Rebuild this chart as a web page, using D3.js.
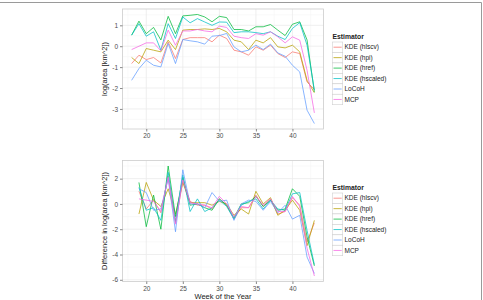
<!DOCTYPE html><head><meta charset = "utf-8">
<title>home range estimators</title>
<style type = "text/css">
body { margin: 0; background: white; }
svg { display: block; font-family: "Liberation Sans", Arial, sans-serif; }
</style>
<script type="text/javascript" src="https://cdn.jsdelivr.net/npm/d3@7"></script>
</head><body>
<svg id="chart" width="483" height="300"></svg>
<script type="text/javascript">

// estimator names and ggplot hue colours
var estimators = ["KDE (hlscv)", "KDE (hpi)", "KDE (href)", "KDE (hscaled)", "LoCoH", "MCP"];
var colors = ["#F8766D", "#B79F00", "#00BA38", "#00BFC4", "#619CFF", "#F564E3"];

// weeks
var weeksTop = [18,19,20,21,22,23,24,25,26,27,28,29,30,31,32,33,34,35,36,37,38,39,40,41,42,43];
var weeksDiff = [19,20,21,22,23,24,25,26,27,28,29,30,31,32,33,34,35,36,37,38,39,40,41,42,43];

// log(area) per estimator
var areaHlscv = [-0.83,-0.43,-0.64,-0.54,-0.80,0.21,-0.59,0.32,0.41,0.41,0.41,0.21,0.53,0.37,-0.19,-0.27,-0.43,-0.03,-0.19,0.05,-0.35,-0.54,-0.27,-0.35,-1.71,-2.07];
var areaHpi = [-0.54,-0.83,-0.11,-0.19,-0.27,0.29,-0.16,0.77,0.80,0.80,0.83,0.80,0.85,0.69,0.29,0.21,-0.16,0.29,0.16,0.41,-0.03,-0.08,0.05,-0.27,-1.63,-2.23];
var areaHref = [0.53,1.20,0.60,0.90,0.30,1.43,0.60,1.45,1.48,1.52,1.40,1.17,1.43,1.37,0.80,0.80,0.73,0.93,0.93,1.04,0.77,0.51,1.05,1.17,0.30,-2.19];
var areaHscaled = [0.53,1.08,0.48,0.69,-0.19,1.08,0.37,1.40,1.12,1.32,1.16,1.00,1.16,1.15,0.65,0.69,0.69,0.65,0.60,0.69,0.48,0.32,0.85,1.13,0.05,-2.10];
var areaLocoh = [-1.63,-1.07,-0.67,-0.91,-0.99,0.13,-0.83,0.32,0.26,0.21,0.10,0.48,0.51,0.61,-0.03,-0.27,-0.19,0.05,-0.16,0.10,-0.32,-0.48,-0.91,-1.23,-3.06,-3.70];
var areaMcp = [-0.16,0.00,0.16,0.16,-0.22,0.77,0.05,0.73,0.73,0.80,0.73,0.69,0.96,0.90,0.48,0.41,0.37,0.60,0.53,0.69,0.45,0.16,0.45,0.29,-1.15,-3.19];

// difference in log(area) per estimator
var diffHlscv = [1.0,-0.4,0.3,-0.7,2.2,-1.5,1.8,0.2,-0.1,-0.1,-0.4,0.4,-0.1,-1.2,-0.3,-0.3,0.7,-0.2,0.4,-0.8,-0.6,0.5,-0.1,-3.0,-1.5];
var diffHpi = [-0.8,1.7,0.3,-0.2,1.2,-0.8,1.7,0.1,0.1,0.1,-0.1,0.2,0.0,-0.9,-0.4,-0.8,1.0,0.0,0.5,-0.9,-0.5,0.3,-0.5,-3.3,-1.3];
var diffHref = [1.7,-1.8,0.7,-2.0,3.0,-1.0,2.1,-0.1,0.0,-0.3,-0.5,0.4,-0.1,-1.1,0.0,0.1,0.6,-0.2,0.3,-0.5,-0.4,1.2,0.6,-2.6,-4.9];
var diffHscaled = [1.3,-0.5,-0.3,-1.3,2.5,-1.4,2.3,-0.6,0.4,-0.6,-0.3,0.3,-0.2,-1.2,-0.1,0.2,0.4,-0.4,0.3,-0.4,-0.5,0.8,0.9,-2.1,-4.8];
var diffLocoh = [1.2,0.9,-0.5,-0.4,2.0,-2.2,2.7,0.0,0.0,-0.3,0.9,0.2,0.3,-1.3,0.0,0.3,0.2,-0.5,0.2,-0.7,-0.1,-1.2,-0.9,-4.2,-5.5];
var diffMcp = [0.4,0.3,0.2,-0.6,2.1,-1.6,1.9,0.1,0.0,-0.1,-0.3,0.6,0.0,-1.0,-0.2,-0.3,0.6,-0.1,0.4,-0.6,-0.6,0.6,-0.2,-3.5,-5.7];

var areaSeries = [areaHlscv, areaHpi, areaHref, areaHscaled, areaLocoh, areaMcp];
var diffSeries = [diffHlscv, diffHpi, diffHref, diffHscaled, diffLocoh, diffMcp];

var xTicks = [20, 25, 30, 35, 40];
var yTicksTop = [-3, -2, -1, 0, 1];
var yTicksDiff = [-6, -4, -2, 0, 2];

var svg = d3.select("#chart");

// frame around figure (top and right edges visible)
svg.append("line").attr("x1", 0).attr("x2", 481.5).attr("y1", 2.5).attr("y2", 2.5)
  .attr("stroke", "#9a9a9a").attr("stroke-width", 1);
svg.append("line").attr("x1", 481.5).attr("x2", 481.5).attr("y1", 2.5).attr("y2", 300)
  .attr("stroke", "#9a9a9a").attr("stroke-width", 1);

// ggplot style 5% expansion
function expand(ext) {
  var d = (ext[1] - ext[0]) * 0.05;
  return [ext[0] - d, ext[1] + d];
}

function drawPanel(opt) {
  var weeks = opt.weeks, series = opt.series;
  var left = 122.5, right = 323.5;
  var g = svg.append("g");

  var xscale = d3.scaleLinear().domain(expand([18, 43])).range([left, right]);
  var all = d3.merge(series);
  var yscale = d3.scaleLinear().domain(expand(d3.extent(all))).range([opt.bottom, opt.top]);

  // minor grid
  var xMinor = xTicks.map(function(t) { return t - 2.5; }).concat([42.5]);
  var yMinor = opt.yTicks.map(function(t) { return t - opt.yStep / 2; }).concat([opt.yTicks[opt.yTicks.length - 1] + opt.yStep / 2]);
  g.selectAll("line.xminor").data(xMinor.filter(function(v) { return xscale(v) > left && xscale(v) < right; }))
    .join("line").attr("class", "xminor")
    .attr("x1", function(d) { return xscale(d); }).attr("x2", function(d) { return xscale(d); })
    .attr("y1", opt.top).attr("y2", opt.bottom).attr("stroke", "#f5f5f5").attr("stroke-width", 0.6);
  g.selectAll("line.yminor").data(yMinor.filter(function(v) { return yscale(v) > opt.top && yscale(v) < opt.bottom; }))
    .join("line").attr("class", "yminor")
    .attr("x1", left).attr("x2", right)
    .attr("y1", function(d) { return yscale(d); }).attr("y2", function(d) { return yscale(d); })
    .attr("stroke", "#f5f5f5").attr("stroke-width", 0.6);

  // major grid
  g.selectAll("line.xmajor").data(xTicks).join("line").attr("class", "xmajor")
    .attr("x1", function(d) { return xscale(d); }).attr("x2", function(d) { return xscale(d); })
    .attr("y1", opt.top).attr("y2", opt.bottom).attr("stroke", "#ebebeb").attr("stroke-width", 0.8);
  g.selectAll("line.ymajor").data(opt.yTicks).join("line").attr("class", "ymajor")
    .attr("x1", left).attr("x2", right)
    .attr("y1", function(d) { return yscale(d); }).attr("y2", function(d) { return yscale(d); })
    .attr("stroke", "#ebebeb").attr("stroke-width", 0.8);

  // data lines
  var line = d3.line()
    .x(function(d, i) { return xscale(weeks[i]); })
    .y(function(d) { return yscale(d); });
  g.selectAll("path.data").data(series).join("path").attr("class", "data")
    .attr("d", line)
    .attr("fill", "none")
    .attr("stroke", function(d, i) { return colors[i]; })
    .attr("stroke-width", 0.75);

  // panel border
  g.append("rect").attr("x", left).attr("y", opt.top)
    .attr("width", right - left).attr("height", opt.bottom - opt.top)
    .attr("fill", "none").attr("stroke", "#cccccc").attr("stroke-width", 0.8);

  // axes
  var xaxis = g.append("g").attr("transform", "translate(0," + opt.bottom + ")")
    .call(d3.axisBottom(xscale).tickValues(xTicks).tickSize(2.5).tickPadding(2));
  var yaxis = g.append("g").attr("transform", "translate(" + left + ",0)")
    .call(d3.axisLeft(yscale).tickValues(opt.yTicks).tickSize(2.5).tickPadding(2)
      .tickFormat(function(d) { return String(d); }));
  [xaxis, yaxis].forEach(function(a) {
    a.select(".domain").remove();
    a.selectAll(".tick line").attr("stroke", "#555555").attr("stroke-width", 0.7);
    a.selectAll(".tick text").attr("fill", "#4d4d4d").style("font-size", "6.5px");
  });

  // y title
  g.append("text")
    .attr("transform", "translate(104," + ((opt.top + opt.bottom) / 2) + ") rotate(-90)")
    .attr("text-anchor", "middle")
    .attr("dy", "0.35em")
    .style("font-size", "7.5px")
    .attr("fill", "#222")
    .text(opt.ytitle);

  // legend
  var lg = svg.append("g").attr("transform", "translate(332.5," + opt.legendTop + ")");
  lg.append("text").attr("x", 0).attr("y", 0).attr("dy", "0.35em")
    .style("font-size", "6.8px").style("font-weight", "bold").attr("fill", "#222")
    .text("Estimator");
  var items = lg.selectAll("g.item").data(estimators).join("g").attr("class", "item")
    .attr("transform", function(d, i) { return "translate(0," + (5.5 + i * 10.45) + ")"; });
  items.append("rect").attr("width", 10.2).attr("height", 10.45)
    .attr("fill", "white").attr("stroke", "#d0d0d0").attr("stroke-width", 0.6);
  items.append("line").attr("x1", 1).attr("x2", 9.2).attr("y1", 5.2).attr("y2", 5.2)
    .attr("stroke", function(d, i) { return colors[i]; }).attr("stroke-width", 0.75);
  items.append("text").attr("x", 12).attr("y", 5.2).attr("dy", "0.35em")
    .style("font-size", "6.5px").attr("fill", "#222")
    .text(function(d) { return d; });
}

drawPanel({ weeks: weeksTop, series: areaSeries, top: 9, bottom: 129,
  yTicks: yTicksTop, yStep: 1, ytitle: "log(area [km^2])", legendTop: 36.5 });
drawPanel({ weeks: weeksDiff, series: diffSeries, top: 160.5, bottom: 281.5,
  yTicks: yTicksDiff, yStep: 2, ytitle: "Difference in log(area [km^2])", legendTop: 187.5 });

// x title
svg.append("text").attr("x", 223).attr("y", 296).attr("dy", "0.35em")
  .attr("text-anchor", "middle").style("font-size", "7.5px").attr("fill", "#222")
  .text("Week of the Year");

</script>
</body></html>
